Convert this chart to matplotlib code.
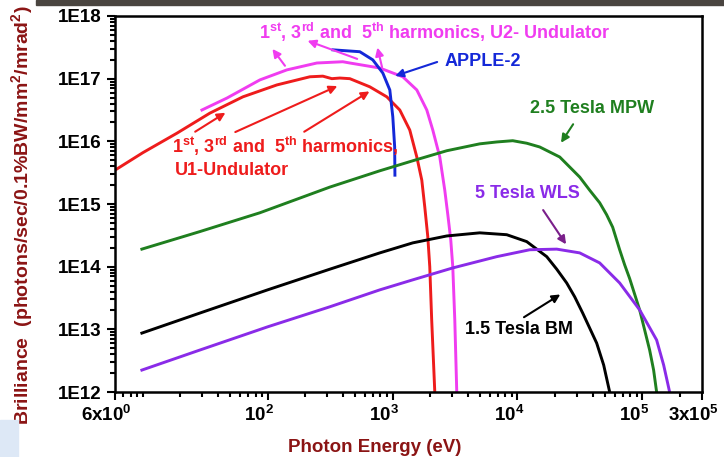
import numpy as np
import matplotlib
matplotlib.use("Agg")
import matplotlib.pyplot as plt
import matplotlib.transforms as mtransforms
from matplotlib.patches import Rectangle
from matplotlib.ticker import FixedLocator, FixedFormatter, LogLocator, NullFormatter

plt.rcParams["font.family"] = ["Liberation Sans", "DejaVu Sans"]
plt.rcParams["mathtext.fontset"] = "custom"
plt.rcParams["mathtext.rm"] = "Liberation Sans:bold"
plt.rcParams["mathtext.bf"] = "Liberation Sans:bold"
plt.rcParams["mathtext.it"] = "Liberation Sans:bold"

# ----------------------------
# Data (energy in eV, log10 brilliance)
# ----------------------------

u1_e = [6, 10.05, 18.8, 34.5, 63.4, 118.6, 217.9, 276.8, 326.7, 378.6, 455, 657.6,
        900, 1143, 1374, 1564, 1715, 1812, 1915, 1986, 2058, 2179]
u1_b = [15.54, 15.82, 16.13, 16.45, 16.71, 16.90, 17.03, 17.04, 17.0, 17.01, 17.0, 16.87,
        16.71, 16.50, 16.18, 15.75, 15.38, 14.95, 14.48, 14.0, 13.15, 12.0]

u2_e = [29.8, 47.2, 86.7, 142.6, 248, 400, 455, 791, 1208, 1564, 1880, 2100, 2389,
        2619, 2770, 2924, 3035, 3150, 3267]
u2_b = [16.50, 16.69, 16.98, 17.14, 17.25, 17.27, 17.25, 17.17, 17.03, 16.82, 16.50, 16.18, 15.75,
        15.22, 14.83, 14.43, 14.0, 13.15, 12.0]

apple_e = [333, 547, 695, 836, 951, 1005, 1040, 1045]
apple_b = [17.46, 17.43, 17.30, 17.09, 16.82, 16.39, 15.91, 15.46]

mpw_e = [9.85, 28.7, 86.7, 315, 791, 1453, 2717, 4991, 6828, 9168, 11860, 15070, 21790, 31490,
         37860, 45500, 51700, 57830, 65790, 72100, 79100, 95100, 114300, 123000, 130000]
mpw_b = [14.28, 14.56, 14.86, 15.27, 15.53, 15.69, 15.85, 15.96, 15.99, 16.01, 15.97, 15.91, 15.75, 15.43,
         15.22, 15.02, 14.83, 14.63, 14.27, 14.03, 13.81, 13.31, 12.67, 12.35, 12.0]

bm_e = [9.85, 28.7, 100, 315, 791, 1453, 2717, 4991, 8208, 11860, 17150, 20620, 24780,
        28700, 33280, 43070, 49000, 54720]
bm_b = [12.94, 13.26, 13.63, 13.96, 14.22, 14.38, 14.49, 14.54, 14.51, 14.40, 14.16, 13.96, 13.74,
        13.52, 13.26, 12.78, 12.43, 12.0]

wls_e = [9.85, 28.7, 100, 315, 791, 1453, 3035, 6828, 12540, 20620, 31490, 45500,
         65790, 95100, 130000, 148000, 165200]
wls_b = [12.35, 12.67, 13.04, 13.36, 13.63, 13.79, 13.98, 14.16, 14.27, 14.28, 14.22, 14.06,
         13.74, 13.31, 12.83, 12.43, 12.0]

y_ticks = [1e12, 1e13, 1e14, 1e15, 1e16, 1e17, 1e18]
y_labels = ["1E12", "1E13", "1E14", "1E15", "1E16", "1E17", "1E18"]
x_ticks = [6, 1e2, 1e3, 1e4, 1e5, 3e5]
x_labels = [r"$\mathbf{6x10^{0}}$", r"$\mathbf{10^{2}}$", r"$\mathbf{10^{3}}$",
            r"$\mathbf{10^{4}}$", r"$\mathbf{10^{5}}$", r"$\mathbf{3x10^{5}}$"]

RED = "#ee1c1c"
MAG = "#f03cf0"
BLUE = "#1428d8"
GREEN = "#1f7f1f"
VIOLET = "#8a2be8"
DARKRED = "#8b1414"

# ----------------------------
# Figure
# ----------------------------

fig = plt.figure(figsize=(7.24, 4.57), dpi=100)
ax = fig.add_axes([0.1588, 0.1422, 0.8108, 0.8228])

# bits of the screenshot frame
fig.patches.append(Rectangle((0.05, 0.989), 0.95, 0.011, transform=fig.transFigure,
                             color="#4a4540", zorder=0))
fig.patches.append(Rectangle((0, 0), 0.025, 0.08, transform=fig.transFigure,
                             color="#dde8f6", zorder=0))

lw = 2.1
ax.plot(u1_e, 10 ** np.array(u1_b), color=RED, lw=lw)
ax.plot(u2_e, 10 ** np.array(u2_b), color=MAG, lw=lw)
ax.plot(apple_e, 10 ** np.array(apple_b), color=BLUE, lw=lw)
ax.plot(mpw_e, 10 ** np.array(mpw_b), color=GREEN, lw=lw)
ax.plot(bm_e, 10 ** np.array(bm_b), color="black", lw=lw)
ax.plot(wls_e, 10 ** np.array(wls_b), color=VIOLET, lw=lw)

ax.set_xscale("log")
ax.set_yscale("log")
ax.set_xlim(6, 3e5)
ax.set_ylim(1e12, 1e18)

ax.yaxis.set_major_locator(FixedLocator(y_ticks))
ax.yaxis.set_major_formatter(FixedFormatter(y_labels))
ax.yaxis.set_minor_locator(LogLocator(base=10, subs=np.arange(2, 10)))
ax.yaxis.set_minor_formatter(NullFormatter())
ax.xaxis.set_major_locator(FixedLocator(x_ticks))
ax.xaxis.set_major_formatter(FixedFormatter(x_labels))
ax.xaxis.set_minor_locator(LogLocator(base=10, subs=np.arange(1, 10)))
ax.xaxis.set_minor_formatter(NullFormatter())

ax.tick_params(which="both", direction="out", top=False, right=False, width=1.5)
ax.tick_params(which="major", length=6, labelsize=13.5)
ax.tick_params(which="minor", length=3.5)
for lab in ax.get_yticklabels():
    lab.set_fontweight("bold")
shift = mtransforms.ScaledTranslation(-6 / 72, 0, fig.dpi_scale_trans)
for lab in ax.get_xticklabels():
    lab.set_transform(lab.get_transform() + shift)
for sp in ax.spines.values():
    sp.set_linewidth(1.8)

ax.set_xlabel("Photon Energy (eV)", fontsize=13.5, fontweight="bold", color=DARKRED)
ax.xaxis.set_label_coords(0.443, -0.125)
ax.set_ylabel(r"Brilliance  (photons/sec/0.1%BW/mm$^{2}$/mrad$^{2}$)", fontsize=14,
              fontweight="bold", color=DARKRED)
ax.yaxis.set_label_coords(-0.136, 0.47)

# ----------------------------
# Annotations
# ----------------------------

def arrow(tail, head, color):
    ax.annotate("", xy=head, xytext=tail,
                arrowprops=dict(arrowstyle="-|>", color=color, lw=1.5, mutation_scale=12))

arrow((142, 10 ** 17.17), (106, 10 ** 17.51), MAG)
arrow((547, 10 ** 17.30), (199, 10 ** 17.62), MAG)
arrow((834, 10 ** 17.14), (748, 10 ** 17.54), MAG)
arrow((2389, 10 ** 17.28), (1000, 10 ** 17.03), BLUE)
arrow((25.2, 10 ** 16.13), (48, 10 ** 16.48), RED)
arrow((52.6, 10 ** 16.13), (379, 10 ** 16.9), RED)
arrow((188, 10 ** 16.13), (683, 10 ** 16.82), RED)
arrow((28700, 10 ** 16.31), (21700, 10 ** 15.94), GREEN)
arrow((15600, 10 ** 14.94), (25200, 10 ** 14.32), "#7a1f8a")
arrow((10800, 10 ** 13.17), (23000, 10 ** 13.58), "black")

fs = 13
ax.text(0.545, 0.955, r"1$^{st}$, 3$^{rd}$ and  5$^{th}$ harmonics, U2- Undulator",
        transform=ax.transAxes, ha="center", va="center", fontsize=fs, fontweight="bold", color=MAG)
ax.text(0.562, 0.878, "APPLE-2", transform=ax.transAxes, ha="left", va="center",
        fontsize=fs, fontweight="bold", color=BLUE)
ax.text(0.097, 0.652, r"1$^{st}$, 3$^{rd}$ and  5$^{th}$ harmonics,", transform=ax.transAxes,
        ha="left", va="center", fontsize=fs, fontweight="bold", color=RED)
ax.text(0.102, 0.59, "U1-Undulator", transform=ax.transAxes, ha="left", va="center",
        fontsize=fs, fontweight="bold", color=RED)
ax.text(0.707, 0.755, "2.5 Tesla MPW", transform=ax.transAxes, ha="left", va="center",
        fontsize=fs, fontweight="bold", color=GREEN)
ax.text(0.613, 0.529, "5 Tesla WLS", transform=ax.transAxes, ha="left", va="center",
        fontsize=fs, fontweight="bold", color=VIOLET)
ax.text(0.596, 0.165, "1.5 Tesla BM", transform=ax.transAxes, ha="left", va="center",
        fontsize=fs, fontweight="bold", color="black")

fig.savefig("out.png", dpi=100)
